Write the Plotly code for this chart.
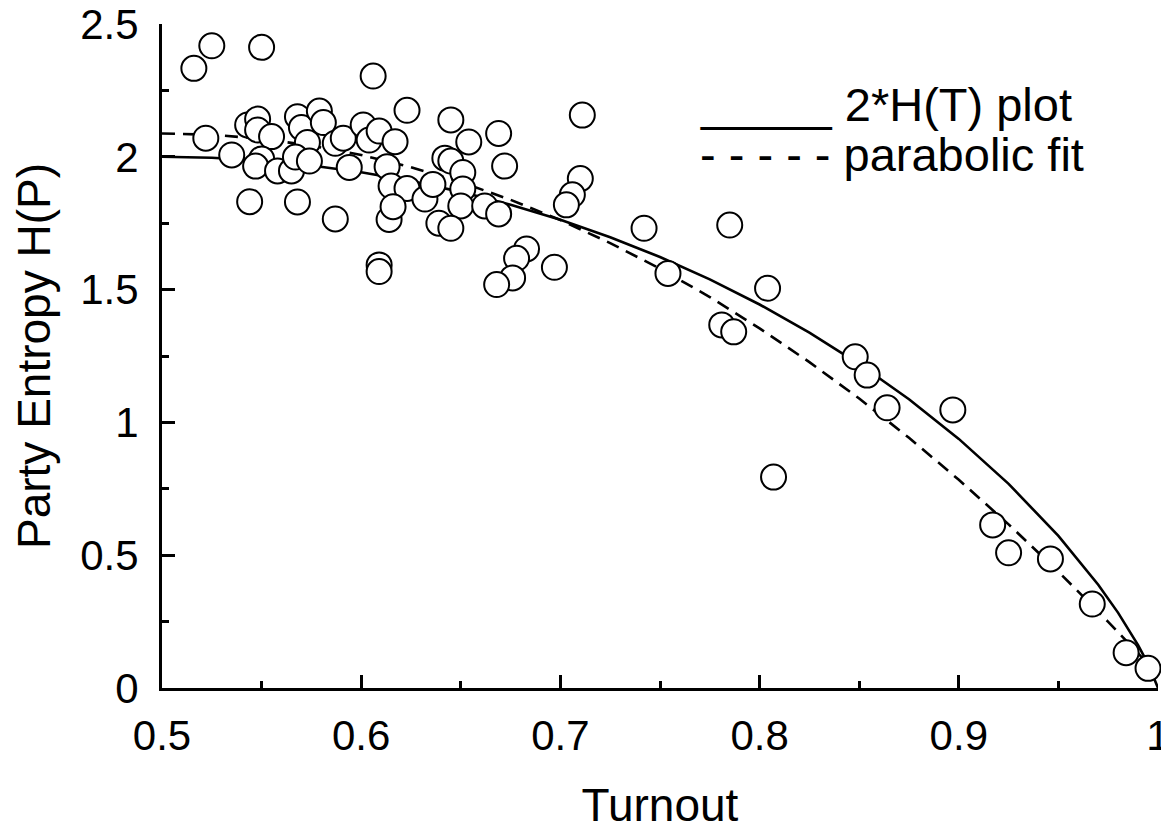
import plotly.graph_objects as go

# ---- scatter data ----
turnout = [0.516, 0.525, 0.550, 0.606, 0.623, 0.522, 0.535, 0.544, 0.568, 0.587,
           0.614, 0.543, 0.548, 0.548, 0.555, 0.550, 0.547, 0.558, 0.565, 0.568,
           0.570, 0.573, 0.567, 0.574, 0.579, 0.581, 0.587, 0.591, 0.594, 0.601,
           0.604, 0.609, 0.617, 0.613, 0.615, 0.623, 0.632, 0.636, 0.616, 0.645,
           0.669, 0.654, 0.672, 0.642, 0.645, 0.651, 0.651, 0.650, 0.662, 0.669,
           0.639, 0.645, 0.609, 0.609, 0.683, 0.678, 0.676, 0.668, 0.697, 0.711,
           0.710, 0.706, 0.703, 0.742, 0.785, 0.754, 0.804, 0.781, 0.787, 0.848,
           0.854, 0.864, 0.897, 0.807, 0.917, 0.925, 0.946, 0.967, 0.984, 0.995]
entropy = [2.333, 2.418, 2.412, 2.304, 2.175, 2.070, 2.007, 1.831, 1.830, 1.766,
           1.764, 2.120, 2.142, 2.101, 2.076, 1.992, 1.965, 1.947, 1.947, 2.151,
           2.110, 2.054, 1.999, 1.984, 2.172, 2.129, 2.051, 2.070, 1.960, 2.120,
           2.063, 2.097, 2.057, 1.963, 1.890, 1.881, 1.841, 1.896, 1.812, 2.139,
           2.088, 2.056, 1.965, 1.995, 1.984, 1.941, 1.879, 1.815, 1.815, 1.785,
           1.750, 1.731, 1.593, 1.568, 1.653, 1.618, 1.544, 1.519, 1.584, 2.157,
           1.918, 1.857, 1.819, 1.731, 1.743, 1.561, 1.505, 1.367, 1.341, 1.247,
           1.178, 1.055, 1.047, 0.794, 0.614, 0.509, 0.486, 0.316, 0.133, 0.074]

# ---- solid curve 2*H(T) ----
curve_t = [0.5, 0.525, 0.55, 0.575, 0.6, 0.625, 0.65, 0.675, 0.7, 0.725, 0.75,
           0.775, 0.8, 0.825, 0.85, 0.875, 0.9, 0.925, 0.95, 0.97, 0.98, 0.99,
           0.995, 0.999, 1.0]
curve_h = [2.0, 1.9964, 1.9855, 1.9674, 1.942, 1.9089, 1.868, 1.8194, 1.7626,
           1.6972, 1.6226, 1.5384, 1.4439, 1.3380, 1.2197, 1.0871, 0.938, 0.7686,
           0.5729, 0.3888, 0.2829, 0.1616, 0.0909, 0.0228, 0.0]

# ---- dashed parabolic fit ----
fit_t = [0.5, 0.525, 0.55, 0.575, 0.6, 0.625, 0.65, 0.675, 0.7, 0.725, 0.75,
         0.775, 0.8, 0.825, 0.85, 0.875, 0.9, 0.925, 0.95, 0.975, 0.995]
fit_h = [2.088, 2.083, 2.068, 2.042, 2.007, 1.961, 1.905, 1.838, 1.762, 1.675,
         1.579, 1.472, 1.354, 1.227, 1.090, 0.942, 0.784, 0.616, 0.438, 0.249,
         0.091]

# ---- ticks ----
x_tickvals = [0.5, 0.6, 0.7, 0.8, 0.9, 1.0]
x_ticktext = ["0.5", "0.6", "0.7", "0.8", "0.9", "1"]
x_minor = [0.55, 0.65, 0.75, 0.85, 0.95]
y_tickvals = [0, 0.5, 1, 1.5, 2, 2.5]
y_ticktext = ["0", "0.5", "1", "1.5", "2", "2.5"]
y_minor = [0.25, 0.75, 1.25, 1.75, 2.25]

legend_lines = ["_____ 2*H(T) plot", "- - - - - parabolic fit"]

FONT = "Liberation Sans, Arial, sans-serif"

fig = go.Figure()
fig.add_trace(go.Scatter(x=curve_t, y=curve_h, mode="lines",
                         line=dict(color="black", width=2.6),
                         cliponaxis=False, hoverinfo="skip"))
fig.add_trace(go.Scatter(x=fit_t, y=fit_h, mode="lines",
                         line=dict(color="black", width=2.6, dash="13px,8px"),
                         cliponaxis=False, hoverinfo="skip"))
fig.add_trace(go.Scatter(x=turnout, y=entropy, mode="markers",
                         marker=dict(symbol="circle", size=25, color="white",
                                     line=dict(color="black", width=2)),
                         cliponaxis=False))

axis_common = dict(showline=True, linecolor="black", linewidth=3,
                   ticks="inside", ticklen=13, tickwidth=2.5, tickcolor="black",
                   showgrid=False, zeroline=False, mirror=False,
                   automargin=False, ticklabeloverflow="allow",
                   tickfont=dict(size=42, family=FONT, color="black"))

fig.update_xaxes(range=[0.5, 1.0], tickmode="array", tickvals=x_tickvals,
                 ticktext=x_ticktext, ticklabelstandoff=9,
                 minor=dict(tickmode="array", tickvals=x_minor, ticks="inside",
                            ticklen=7, tickwidth=2.5, tickcolor="black",
                            showgrid=False),
                 title=dict(text="Turnout", font=dict(size=46, family=FONT),
                            standoff=31),
                 **axis_common)
fig.update_yaxes(range=[0, 2.5], tickmode="array", tickvals=y_tickvals,
                 ticktext=y_ticktext, ticklabelstandoff=12,
                 minor=dict(tickmode="array", tickvals=y_minor, ticks="inside",
                            ticklen=7, tickwidth=2.5, tickcolor="black",
                            showgrid=False),
                 title=dict(text="Party Entropy H(P)",
                            font=dict(size=46, family=FONT), standoff=28),
                 **axis_common)

legend_y = [0.8795, 0.804]
for txt, yy in zip(legend_lines, legend_y):
    fig.add_annotation(x=0.538, y=yy, xref="paper", yref="paper",
                       xanchor="left", yanchor="middle", text=txt,
                       showarrow=False,
                       font=dict(size=47, family=FONT, color="black"))

# the page body adds an 8px margin, so the figure is 8px smaller on each side
fig.update_layout(width=1161, height=824,
                  margin=dict(l=154, r=11, t=16, b=144),
                  plot_bgcolor="white", paper_bgcolor="white",
                  showlegend=False,
                  font=dict(family=FONT, color="black"))

fig.write_html("out.html")
